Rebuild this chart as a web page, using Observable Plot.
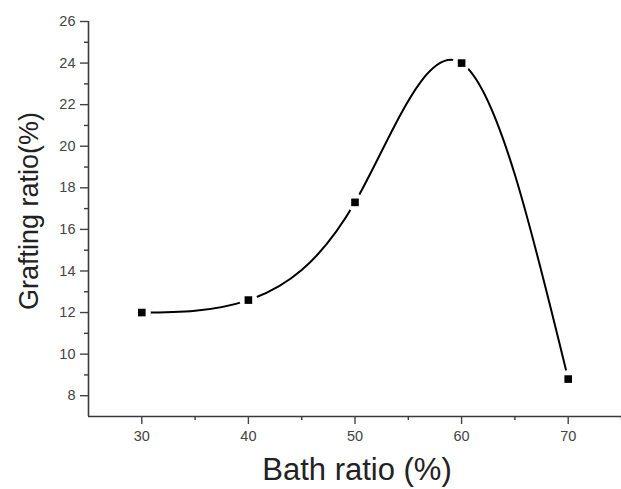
<!DOCTYPE html>
<html>
<head>
<meta charset="utf-8">
<script src="https://cdn.jsdelivr.net/npm/d3@7"></script>
<script src="https://cdn.jsdelivr.net/npm/@observablehq/plot@0.6"></script>
<style>
  html, body { margin: 0; padding: 0; background: #fff; }
  svg { display: block; }
</style>
</head>
<body>
<div id="chart"></div>
<script>
const bathRatio = [30, 40, 50, 60, 70];
const graftingRatio = [12.0, 12.6, 17.3, 24.0, 8.8];
const xTicks = [30, 40, 50, 60, 70];
const xMinorTicks = [35, 45, 55, 65, 75];
const yTicks = [8, 10, 12, 14, 16, 18, 20, 22, 24, 26];
const yMinorTicks = [9, 11, 13, 15, 17, 19, 21, 23, 25];
const xTitle = "Bath ratio (%)";
const yTitle = "Grafting ratio(%)";

const data = bathRatio.map((x, i) => ({x, y: graftingRatio[i]}));
const axisColor = "#3a3a3a";
const font = "'Liberation Sans', Arial, sans-serif";

const chart = Plot.plot({
  width: 621,
  height: 489,
  marginTop: 21,
  marginBottom: 73,
  marginLeft: 88,
  marginRight: 0,
  style: {fontFamily: font, background: "#fff"},
  x: {domain: [25, 75]},
  y: {domain: [7, 26]},
  marks: [
    Plot.ruleY([7], {stroke: axisColor, strokeWidth: 1.6}),
    Plot.ruleX([25], {stroke: axisColor, strokeWidth: 1.6}),
    Plot.axisX(xTicks, {tickSize: 8, tickPadding: 6, fontSize: 14.5, color: "#444", strokeWidth: 1.4, label: null}),
    Plot.axisX(xMinorTicks, {tickSize: 4, text: null, stroke: axisColor, strokeWidth: 1.4, label: null}),
    Plot.axisY(yTicks, {tickSize: 8, tickPadding: 5, fontSize: 14.5, color: "#444", strokeWidth: 1.4, label: null}),
    Plot.axisY(yMinorTicks, {tickSize: 4, text: null, stroke: axisColor, strokeWidth: 1.4, label: null}),
    Plot.line(data, {x: "x", y: "y", curve: "natural", stroke: "#000", strokeWidth: 2}),
    Plot.dot(data, {x: "x", y: "y", r: 9, fill: "#fff", stroke: null}),
    Plot.dot(data, {x: "x", y: "y", symbol: "square", r: 4.3, fill: "#000", stroke: null}),
    Plot.text([xTitle], {text: d => d, frameAnchor: "bottom", textAnchor: "middle", dx: 2, dy: 63, fontSize: 31, fill: "#222"}),
    Plot.text([yTitle], {text: d => d, frameAnchor: "left", textAnchor: "middle", dx: -59, dy: -8, rotate: -90, fontSize: 27, fill: "#222"})
  ]
});
document.getElementById("chart").appendChild(chart);
</script>
</body>
</html>
